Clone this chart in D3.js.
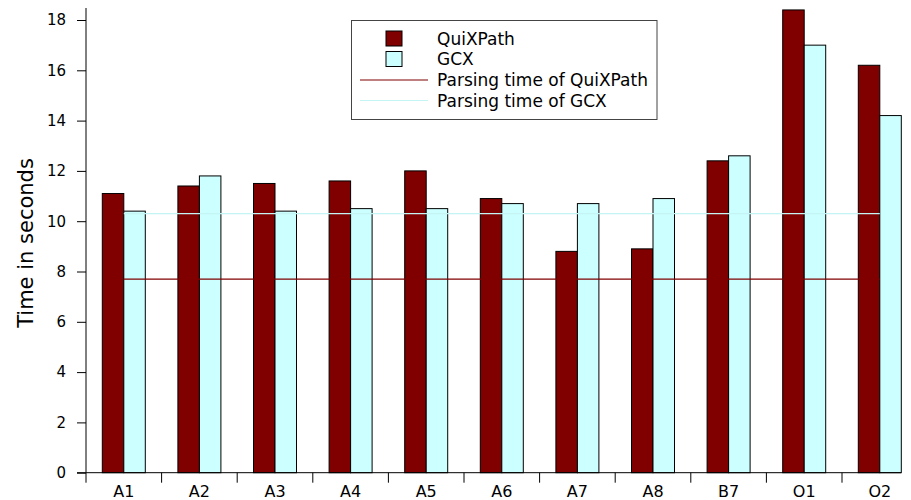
<!DOCTYPE html>
<html><head><meta charset="utf-8">
<script src="https://cdn.jsdelivr.net/npm/d3@7"></script>
<style>body{margin:0;background:#fff}svg{display:block}text{font-family:"DejaVu Sans",sans-serif;fill:#000}</style>
</head><body><svg id="c" width="911" height="500"></svg>
<script>
const categories = ["A1","A2","A3","A4","A5","A6","A7","A8","B7","O1","O2"];
const seriesNames = ["QuiXPath","GCX"];
const quixpath = [11.1,11.4,11.5,11.6,12.0,10.9,8.8,8.9,12.4,18.4,16.2];
const gcx = [10.4,11.8,10.4,10.5,10.5,10.7,10.7,10.9,12.6,17.0,14.2];
const parseQuix = 7.7;
const parseGcx = 10.3;
const yTicks = [0,2,4,6,8,10,12,14,16,18];
const colors = ["#800000","#ccffff"];
const lineColors = ["#800000","#c4f4f4"];

const svg = d3.select("#c");
const left = 86, step = 75.6;
const x = d3.scaleBand().domain(categories).range([left, left + step*categories.length]).padding(0);
const xs = d3.scaleBand().domain(seriesNames).range([16.3, step-16.3]).padding(0);
const y = d3.scaleLinear().domain([0,18]).range([472.7, 20]);
const vals = [quixpath, gcx];

// bars
seriesNames.forEach((s,si)=>{
  svg.append("g").selectAll("rect").data(categories).join("rect")
    .attr("x", c=> x(c)+xs(s))
    .attr("y", (c,i)=> y(vals[si][i]))
    .attr("width", xs.bandwidth())
    .attr("height", (c,i)=> y(0)-y(vals[si][i]))
    .attr("fill", colors[si]).attr("stroke","#000").attr("stroke-width",1);
});

// parsing lines
const x0 = x(categories[0]) + x.bandwidth()/2, x1 = x(categories[categories.length-1]) + x.bandwidth()/2;
[parseQuix, parseGcx].forEach((v,i)=>{
  svg.append("line").attr("x1",x0).attr("x2",x1).attr("y1",y(v)).attr("y2",y(v))
    .attr("stroke",lineColors[i]).attr("stroke-width",1.2);
});

// y axis
const ya = svg.append("g").attr("transform",`translate(${left},0)`)
  .call(d3.axisLeft(y).tickValues(yTicks).tickSize(9).tickPadding(11).tickSizeOuter(0));
ya.select(".domain").remove();
ya.selectAll("text").style("font-size","15px").style("font-family","DejaVu Sans");
ya.selectAll("line").attr("stroke","#000");
svg.append("line").attr("x1",left).attr("x2",left).attr("y1",8).attr("y2",y(0)).attr("stroke","#000");

// x axis
svg.append("line").attr("x1",77).attr("x2",901).attr("y1",y(0)).attr("y2",y(0)).attr("stroke","#000");
svg.append("g").selectAll("line").data(categories).join("line")
  .attr("x1",c=>x(c)).attr("x2",c=>x(c)).attr("y1",y(0)).attr("y2",y(0)+10).attr("stroke","#000");
svg.append("g").selectAll("text").data(categories).join("text")
  .attr("x",c=>x(c)+x.bandwidth()/2).attr("y",496.5).attr("text-anchor","middle")
  .style("font-size","16px").text(c=>c);

// y title
svg.append("text").attr("transform","translate(33,243) rotate(-90)").attr("text-anchor","middle")
  .style("font-size","21px").text("Time in seconds");

// legend
const lg = svg.append("g");
lg.append("rect").attr("x",351.5).attr("y",20.5).attr("width",305.5).attr("height",99)
  .attr("fill","#fff").attr("stroke","#444").attr("stroke-width",1);
const rows = [44.5, 65, 86, 106.5];
seriesNames.forEach((s,i)=>{
  lg.append("rect").attr("x",386).attr("y",rows[i]-13.5).attr("width",16).attr("height",15)
    .attr("fill",colors[i]).attr("stroke","#000");
  lg.append("text").attr("x",437).attr("y",rows[i]).style("font-size","17px").text(s);
});
["Parsing time of QuiXPath","Parsing time of GCX"].forEach((t,i)=>{
  lg.append("line").attr("x1",360).attr("x2",428).attr("y1",rows[i+2]-6).attr("y2",rows[i+2]-6)
    .attr("stroke",lineColors[i]).attr("stroke-width",1.2);
  lg.append("text").attr("x",437).attr("y",rows[i+2]).style("font-size","17px").text(t);
});
</script></body></html>
